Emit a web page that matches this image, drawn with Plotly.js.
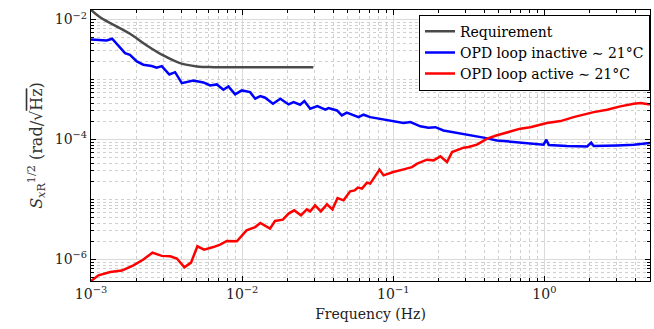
<!DOCTYPE html>
<html>
<head>
<meta charset="utf-8">
<script src="https://cdn.plot.ly/plotly-3.0.1.min.js"></script>
<style>html,body{margin:0;padding:0;background:#fff;}#chart{width:654px;height:329px;}</style>
</head>
<body>
<div id="chart"></div>
<script>
// Requirement curve
const reqFreq = [1.00e-3, 1.148e-3, 1.81e-3, 2.34e-3, 3.01e-3, 3.88e-3, 5.01e-3, 6.46e-3, 1.0e-2, 2.0e-2, 2.96e-2];
const reqAsd  = [1.45e-2, 1.09e-2, 5.78e-3, 3.69e-3, 2.51e-3, 1.87e-3, 1.65e-3, 1.60e-3, 1.60e-3, 1.60e-3, 1.60e-3];

// OPD loop inactive ~21°C
const blueFreq = [1.00e-3, 1.27e-3, 1.38e-3, 1.52e-3, 1.68e-3, 1.81e-3, 2.01e-3, 2.22e-3, 2.52e-3, 2.72e-3, 2.94e-3, 3.30e-3, 3.60e-3, 3.99e-3, 4.75e-3, 5.54e-3, 6.14e-3, 6.80e-3, 7.52e-3, 8.11e-3, 8.99e-3, 9.95e-3, 1.13e-2, 1.22e-2, 1.32e-2, 1.42e-2, 1.60e-2, 1.79e-2, 2.03e-2, 2.19e-2, 2.42e-2, 2.58e-2, 2.82e-2, 3.15e-2, 3.55e-2, 3.73e-2, 4.24e-2, 4.57e-2, 4.93e-2, 5.89e-2, 6.36e-2, 7.04e-2, 8.20e-2, 9.55e-2, 1.17e-1, 1.30e-1, 1.51e-1, 1.71e-1, 1.90e-1, 2.15e-1, 2.51e-1, 3.08e-1, 3.96e-1, 4.86e-1, 6.26e-1, 7.67e-1, 9.89e-1, 1.03, 1.07, 1.41, 1.92, 2.04, 2.12, 3.03, 3.90, 5.00];
const blueAsd  = [4.64e-3, 4.47e-3, 4.77e-3, 3.69e-3, 2.74e-3, 2.58e-3, 2.00e-3, 1.76e-3, 1.67e-3, 1.57e-3, 1.67e-3, 1.21e-3, 1.32e-3, 8.68e-4, 9.62e-4, 8.91e-4, 7.94e-4, 8.26e-4, 6.73e-4, 7.64e-4, 5.62e-4, 6.56e-4, 6.14e-4, 4.77e-4, 5.27e-4, 4.95e-4, 3.94e-4, 4.77e-4, 3.83e-4, 4.19e-4, 3.79e-4, 4.35e-4, 3.25e-4, 3.59e-4, 3.13e-4, 3.33e-4, 3.04e-4, 2.51e-4, 2.79e-4, 2.35e-4, 2.58e-4, 2.35e-4, 2.21e-4, 2.02e-4, 1.87e-4, 1.94e-4, 1.65e-4, 1.57e-4, 1.60e-4, 1.41e-4, 1.32e-4, 1.21e-4, 1.07e-4, 9.62e-5, 9.02e-5, 8.48e-5, 8.16e-5, 9.89e-5, 8.04e-5, 7.73e-5, 7.64e-5, 8.81e-5, 7.73e-5, 7.94e-5, 8.16e-5, 8.68e-5];

// OPD loop active ~21°C
const redFreq = [1.00e-3, 1.12e-3, 1.34e-3, 1.60e-3, 1.91e-3, 2.22e-3, 2.55e-3, 2.94e-3, 3.34e-3, 3.70e-3, 4.15e-3, 4.59e-3, 5.06e-3, 5.60e-3, 6.46e-3, 7.15e-3, 7.92e-3, 9.23e-3, 1.07e-2, 1.22e-2, 1.32e-2, 1.53e-2, 1.65e-2, 1.86e-2, 2.03e-2, 2.21e-2, 2.45e-2, 2.68e-2, 2.82e-2, 3.04e-2, 3.32e-2, 3.64e-2, 3.96e-2, 4.28e-2, 4.69e-2, 5.19e-2, 5.55e-2, 5.83e-2, 6.21e-2, 6.70e-2, 7.04e-2, 7.41e-2, 8.11e-2, 8.63e-2, 1.00e-1, 1.17e-1, 1.33e-1, 1.44e-1, 1.67e-1, 1.85e-1, 2.05e-1, 2.27e-1, 2.45e-1, 2.92e-1, 3.15e-1, 3.58e-1, 4.18e-1, 4.86e-1, 5.66e-1, 6.93e-1, 8.07e-1, 1.04, 1.28, 1.56, 2.12, 2.60, 3.18, 3.90, 4.33, 5.00];
const redAsd  = [4.35e-7, 5.41e-7, 6.14e-7, 6.48e-7, 7.94e-7, 9.89e-7, 1.29e-6, 1.14e-6, 1.12e-6, 1.03e-6, 7.36e-7, 8.81e-7, 1.65e-6, 1.45e-6, 1.60e-6, 1.76e-6, 2.02e-6, 2.00e-6, 3.04e-6, 3.45e-6, 4.03e-6, 3.25e-6, 4.35e-6, 4.59e-6, 5.78e-6, 6.56e-6, 5.41e-6, 6.81e-6, 6.31e-6, 7.94e-6, 6.31e-6, 8.26e-6, 6.81e-6, 1.05e-5, 9.62e-6, 1.36e-5, 1.41e-5, 1.57e-5, 1.51e-5, 1.90e-5, 1.83e-5, 2.21e-5, 3.13e-5, 2.51e-5, 2.85e-5, 3.16e-5, 3.45e-5, 3.94e-5, 4.59e-5, 4.47e-5, 5.21e-5, 4.19e-5, 6.14e-5, 7.28e-5, 7.45e-5, 8.16e-5, 1.03e-4, 1.17e-4, 1.32e-4, 1.51e-4, 1.60e-4, 1.87e-4, 2.02e-4, 2.35e-4, 2.85e-4, 3.13e-4, 3.55e-4, 3.94e-4, 4.03e-4, 3.83e-4];

const seriesNames = ['Requirement', 'OPD loop inactive \u223C 21°C', 'OPD loop active \u223C 21°C'];

// Tick labels
const xTickVals = [1e-3, 1e-2, 1e-1, 1];
const xTickText = ['10<sup>\u22123</sup>', '10<sup>\u22122</sup>', '10<sup>\u22121</sup>', '10<sup>0</sup>'];
const yTickVals = [1e-6, 1e-4, 1e-2];
const yTickText = ['10<sup>\u22126</sup>', '10<sup>\u22124</sup>', '10<sup>\u22122</sup>'];

// minor tick positions (every digit of every decade, minus labelled majors)
function minorTicks(lo, hi, majors) {
  const out = [];
  for (let d = lo; d <= hi; d++) {
    for (let k = 1; k <= 9; k++) {
      const v = k * Math.pow(10, d);
      if (!majors.some(m => Math.abs(m - v) / m < 1e-9)) out.push(v);
    }
  }
  return out;
}

const FONT = 'DejaVu Serif, serif';

const traces = [
  {x: reqFreq, y: reqAsd, name: seriesNames[0], mode: 'lines', line: {color: '#4a4a4a', width: 2.5, shape: 'spline', smoothing: 1}},
  {x: blueFreq, y: blueAsd, name: seriesNames[1], mode: 'lines', line: {color: '#0000ff', width: 2.5}},
  {x: redFreq, y: redAsd, name: seriesNames[2], mode: 'lines', line: {color: '#ff0000', width: 2.5}}
];

const axisCommon = {
  type: 'log',
  tickmode: 'array',
  ticks: 'inside', ticklen: 5, tickwidth: 1, tickcolor: '#000',
  showline: true, linecolor: '#000', linewidth: 1.2, mirror: 'allticks',
  showgrid: true, gridcolor: '#dadada', gridwidth: 1,
  zeroline: false,
  tickfont: {family: FONT, size: 14, color: '#222'}
};

const layout = {
  width: 654, height: 329,
  margin: {l: 91, r: 4, t: 10, b: 48},
  paper_bgcolor: '#fff', plot_bgcolor: '#fff',
  font: {family: FONT, size: 14, color: '#000'},
  showlegend: true,
  legend: {x: 1, xanchor: 'right', y: 0.983, yanchor: 'top', bgcolor: '#fff', bordercolor: '#000', borderwidth: 1,
           font: {family: FONT, size: 14, color: '#000'}, itemwidth: 30, tracegroupgap: 0},
  xaxis: Object.assign({}, axisCommon, {
    range: [-3, Math.log10(5)],
    tickvals: xTickVals, ticktext: xTickText,
    minor: {tickmode: 'array', tickvals: minorTicks(-3, 0, xTickVals), ticks: 'inside', ticklen: 3, tickcolor: '#000',
            showgrid: true, gridcolor: '#cfcfcf', griddash: 'dot', gridwidth: 1},
    title: {text: 'Frequency (Hz)', font: {family: FONT, size: 14, color: '#222'}, standoff: 8}
  }),
  yaxis: Object.assign({}, axisCommon, {
    range: [-6.362, -1.842],
    tickvals: yTickVals, ticktext: yTickText,
    minor: {tickmode: 'array', tickvals: minorTicks(-7, -2, yTickVals), ticks: 'inside', ticklen: 3, tickcolor: '#000',
            showgrid: true, gridcolor: '#cfcfcf', griddash: 'dot', gridwidth: 1},
    title: {text: '<i>S</i><sub><i>x</i>R</sub><sup>1/2</sup> (rad/\u221A<span style="text-decoration:overline">Hz</span>)',
            font: {family: FONT, size: 16, color: '#333'}, standoff: 8}
  })
};

Plotly.newPlot('chart', traces, layout, {displayModeBar: false, staticPlot: true});
</script>
</body>
</html>
